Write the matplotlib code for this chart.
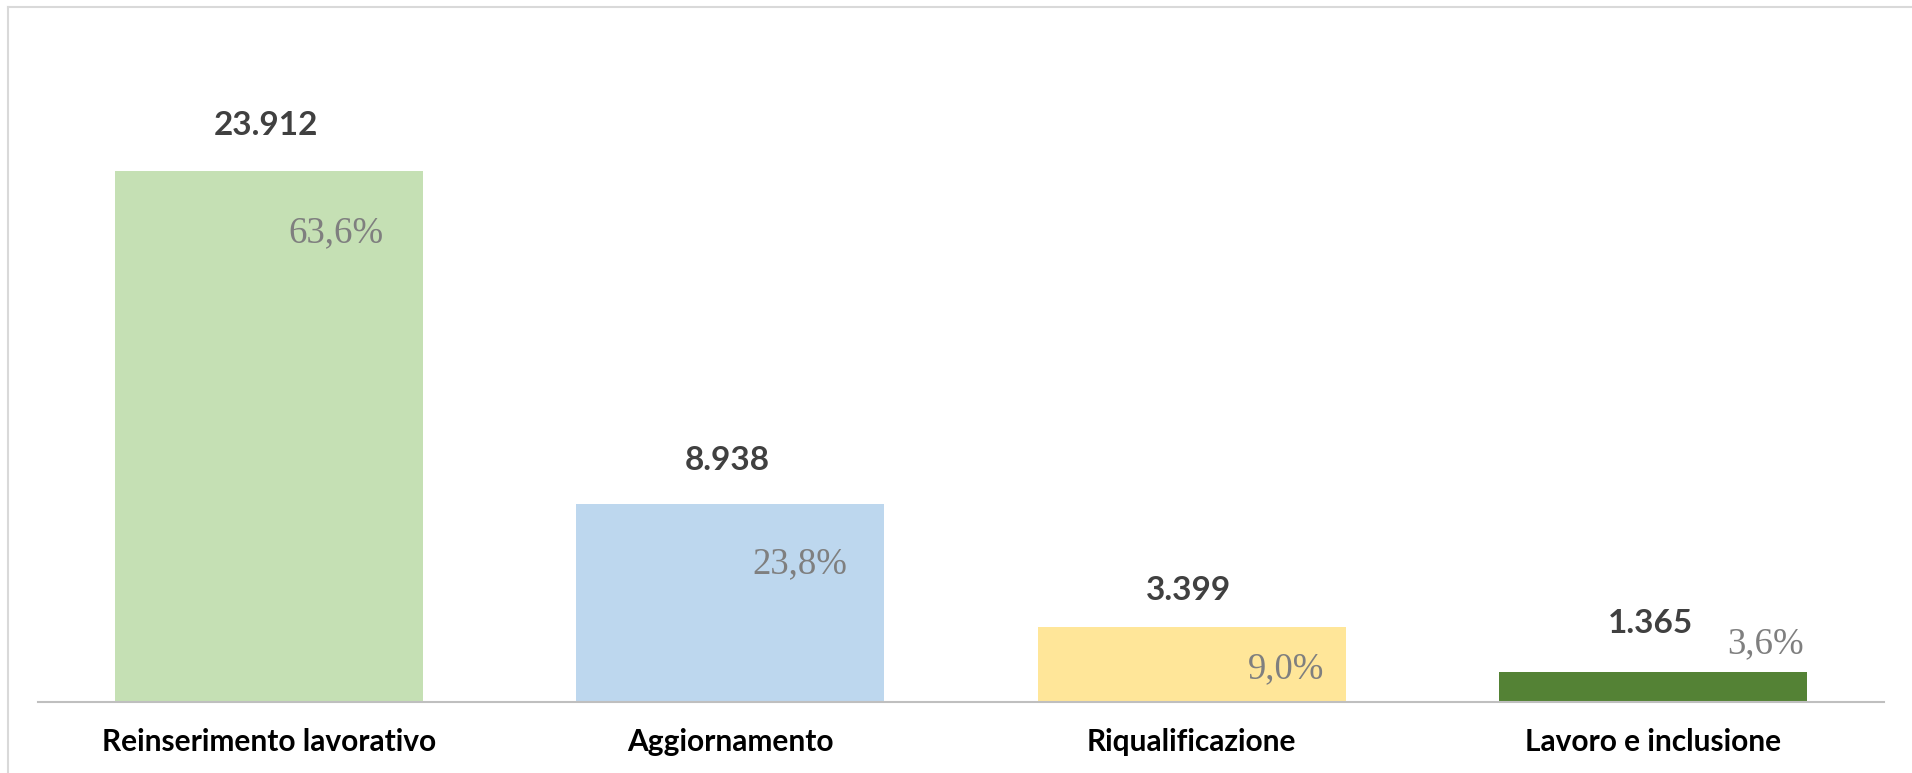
import matplotlib.pyplot as plt
from matplotlib.lines import Line2D

categories = ["Reinserimento lavorativo", "Aggiornamento", "Riqualificazione", "Lavoro e inclusione"]
values = [23912, 8938, 3399, 1365]
value_labels = ["23.912", "8.938", "3.399", "1.365"]
pct_labels = ["63,6%", "23,8%", "9,0%", "3,6%"]
colors = ["#c5e0b4", "#bdd7ee", "#ffe699", "#548235"]

# label placement (pixels), the original labels were nudged by hand
val_dy = [46, 43, 36, 48]
pct_dx = [-39, -37, -21, -3]
pct_dy = [-62, -60, -42, 28]

W, H = 1912, 773
fig = plt.figure(figsize=(W / 100, H / 100), dpi=100)
ax = fig.add_axes([38 / W, 71 / H, 1846 / W, 695 / H])

width = 2 / 3
x = list(range(len(categories)))
ax.bar(x, values, width=width, color=colors)

for i, v in enumerate(values):
    ax.annotate(value_labels[i], (i, v), xytext=(-3, val_dy[i]), textcoords="offset pixels",
                ha="center", va="center", fontsize=24, fontweight="bold",
                color="#404040", family="Lato")
    ax.annotate(pct_labels[i], (i + width / 2, v), xytext=(pct_dx[i], pct_dy[i]),
                textcoords="offset pixels", ha="right", va="center", fontsize=26.5,
                color="#7f7f7f", family="Liberation Serif")

ax.set_xlim(-0.5, 3.5)
ax.set_ylim(0, 31300)
ax.set_xticks(x)
ax.set_xticklabels(categories, fontsize=21.5, fontweight="bold", family="Lato", color="black")
ax.tick_params(axis="x", length=0, pad=19)
ax.set_yticks([])
for s in ["top", "right", "left"]:
    ax.spines[s].set_visible(False)
ax.spines["bottom"].set_color("#bfbfbf")
ax.spines["bottom"].set_linewidth(1.5)

# chart frame (only the top and left edges show)
fig.add_artist(Line2D([8 / W, 8 / W], [0, 1 - 7 / H], color="#d9d9d9", lw=1.5))
fig.add_artist(Line2D([8 / W, 1], [1 - 7 / H, 1 - 7 / H], color="#d9d9d9", lw=1.5))

fig.savefig("out.png", dpi=100)
